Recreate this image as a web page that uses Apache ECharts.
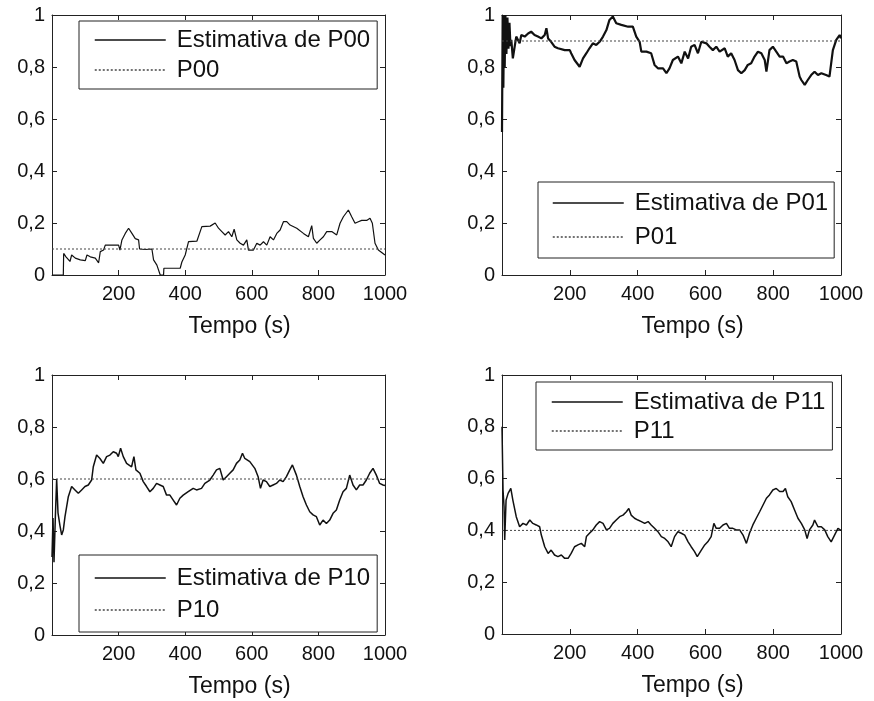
<!DOCTYPE html>
<html>
<head>
<meta charset="utf-8">
<script src="https://cdn.jsdelivr.net/npm/echarts@6/dist/echarts.min.js"></script>
<style>
html, body { margin: 0; padding: 0; background: #fff; }
#chart { width: 874px; height: 701px; }
</style>
</head>
<body>
<div id="chart"></div>
<script>
// tempo (s) e estimativas
const t00 = [0, 34, 35, 42, 54, 59, 70, 85, 100, 105, 115, 130, 140, 145, 155, 160, 200, 204, 210, 220, 230, 240, 250, 260, 263, 280, 300, 305, 315, 325, 335, 336, 385, 390, 400, 410, 435, 450, 475, 490, 500, 510, 520, 530, 540, 547, 555, 565, 575, 585, 590, 605, 615, 625, 635, 645, 655, 665, 675, 685, 695, 705, 715, 735, 755, 770, 780, 785, 795, 805, 815, 825, 840, 855, 865, 875, 890, 900, 910, 920, 930, 945, 955, 962, 970, 980, 1000];
const v00 = [0, 0, 0.083, 0.07, 0.052, 0.077, 0.065, 0.058, 0.055, 0.077, 0.07, 0.065, 0.047, 0.09, 0.096, 0.115, 0.115, 0.096, 0.135, 0.16, 0.18, 0.16, 0.14, 0.135, 0.1, 0.098, 0.1, 0.058, 0.038, 0, 0, 0.026, 0.026, 0.05, 0.077, 0.128, 0.13, 0.186, 0.188, 0.2, 0.18, 0.167, 0.154, 0.167, 0.147, 0.176, 0.135, 0.122, 0.115, 0.135, 0.096, 0.096, 0.122, 0.115, 0.128, 0.115, 0.147, 0.135, 0.16, 0.173, 0.205, 0.205, 0.192, 0.18, 0.16, 0.147, 0.19, 0.141, 0.122, 0.135, 0.147, 0.167, 0.167, 0.154, 0.199, 0.224, 0.25, 0.224, 0.199, 0.205, 0.21, 0.21, 0.218, 0.199, 0.122, 0.096, 0.077];

const t01 = [0, 2, 4, 6, 8, 10, 13, 16, 19, 22, 25, 27.5, 32, 42, 52, 57, 67, 77, 86, 96, 106, 116, 126, 131, 136, 145, 155, 165, 185, 200, 204, 214, 229, 239, 249, 258, 268, 278, 288, 298, 308, 317, 327, 337, 352, 372, 386, 396, 406, 411, 426, 440, 450, 460, 475, 485, 494, 504, 519, 529, 539, 549, 558, 568, 578, 588, 603, 612, 622, 632, 642, 657, 666, 676, 686, 696, 706, 716, 725, 735, 745, 755, 765, 775, 780, 789, 799, 809, 819, 829, 839, 848, 858, 868, 878, 883, 893, 902, 912, 922, 932, 942, 956, 966, 971, 976, 986, 996, 1000];
const v01 = [0.55, 1.0, 0.72, 1.0, 0.8, 1.0, 0.85, 0.99, 0.87, 0.97, 0.88, 0.904, 0.833, 0.917, 0.891, 0.923, 0.917, 0.929, 0.936, 0.923, 0.917, 0.91, 0.923, 0.949, 0.91, 0.897, 0.878, 0.872, 0.865, 0.865, 0.853, 0.827, 0.801, 0.833, 0.853, 0.872, 0.891, 0.885, 0.897, 0.917, 0.942, 0.981, 0.994, 0.968, 0.962, 0.955, 0.955, 0.917, 0.897, 0.859, 0.859, 0.853, 0.808, 0.795, 0.795, 0.776, 0.795, 0.827, 0.84, 0.814, 0.859, 0.833, 0.878, 0.885, 0.853, 0.897, 0.891, 0.878, 0.865, 0.878, 0.859, 0.872, 0.84, 0.853, 0.827, 0.788, 0.776, 0.788, 0.808, 0.814, 0.84, 0.859, 0.853, 0.827, 0.782, 0.865, 0.878, 0.859, 0.84, 0.84, 0.814, 0.821, 0.827, 0.821, 0.763, 0.75, 0.731, 0.75, 0.769, 0.782, 0.769, 0.776, 0.769, 0.763, 0.814, 0.865, 0.904, 0.923, 0.91];

const t10 = [0, 3, 6, 10, 14, 18, 24, 29, 34, 39, 49, 59, 69, 79, 89, 99, 109, 119, 124, 134, 144, 154, 164, 174, 184, 194, 199, 206, 214, 224, 239, 246, 252, 264, 274, 284, 294, 304, 314, 324, 334, 344, 354, 364, 374, 384, 394, 409, 424, 434, 449, 459, 474, 484, 494, 504, 514, 524, 534, 544, 554, 564, 572, 579, 594, 609, 619, 626, 634, 644, 654, 664, 674, 684, 694, 704, 714, 722, 734, 744, 754, 764, 774, 784, 794, 804, 814, 824, 834, 844, 854, 864, 874, 884, 894, 904, 914, 924, 934, 944, 954, 964, 974, 984, 994, 1000];
const v10 = [0.3, 0.45, 0.28, 0.45, 0.6, 0.47, 0.42, 0.385, 0.404, 0.455, 0.532, 0.571, 0.558, 0.545, 0.558, 0.571, 0.577, 0.596, 0.647, 0.692, 0.679, 0.66, 0.686, 0.692, 0.705, 0.699, 0.686, 0.718, 0.686, 0.66, 0.647, 0.686, 0.635, 0.622, 0.59, 0.571, 0.551, 0.564, 0.583, 0.577, 0.571, 0.538, 0.538, 0.519, 0.5, 0.526, 0.538, 0.551, 0.564, 0.558, 0.564, 0.583, 0.596, 0.615, 0.635, 0.641, 0.596, 0.609, 0.622, 0.635, 0.66, 0.673, 0.699, 0.679, 0.667, 0.641, 0.609, 0.564, 0.596, 0.59, 0.571, 0.577, 0.583, 0.596, 0.59, 0.609, 0.635, 0.654, 0.615, 0.571, 0.532, 0.5, 0.474, 0.462, 0.455, 0.423, 0.442, 0.429, 0.442, 0.468, 0.481, 0.519, 0.551, 0.564, 0.615, 0.577, 0.558, 0.577, 0.577, 0.596, 0.622, 0.641, 0.615, 0.583, 0.577, 0.575];

const t11 = [0, 3, 6, 8, 12, 18, 26, 32, 42, 52, 62, 72, 82, 91, 101, 111, 116, 126, 136, 145, 155, 165, 175, 185, 195, 204, 214, 224, 234, 244, 249, 258, 268, 278, 288, 298, 308, 317, 327, 337, 347, 357, 367, 374, 381, 391, 401, 411, 421, 431, 440, 450, 460, 470, 480, 490, 499, 509, 519, 529, 539, 549, 558, 568, 576, 588, 598, 607, 617, 625, 632, 642, 652, 662, 671, 681, 691, 701, 711, 721, 730, 740, 750, 760, 770, 780, 789, 799, 809, 819, 829, 836, 843, 853, 863, 873, 883, 893, 900, 907, 917, 922, 932, 942, 952, 961, 971, 981, 991, 1000];
const v11 = [0.8, 0.556, 0.492, 0.363, 0.517, 0.543, 0.562, 0.517, 0.453, 0.414, 0.427, 0.421, 0.44, 0.427, 0.421, 0.414, 0.382, 0.337, 0.311, 0.324, 0.305, 0.299, 0.305, 0.292, 0.292, 0.311, 0.337, 0.344, 0.35, 0.337, 0.376, 0.389, 0.402, 0.421, 0.434, 0.427, 0.402, 0.408, 0.427, 0.44, 0.453, 0.459, 0.472, 0.485, 0.459, 0.447, 0.44, 0.434, 0.427, 0.434, 0.421, 0.408, 0.395, 0.376, 0.369, 0.356, 0.337, 0.376, 0.395, 0.389, 0.382, 0.356, 0.337, 0.318, 0.299, 0.324, 0.344, 0.356, 0.376, 0.427, 0.408, 0.408, 0.421, 0.427, 0.408, 0.408, 0.402, 0.402, 0.382, 0.35, 0.389, 0.421, 0.447, 0.472, 0.498, 0.524, 0.537, 0.556, 0.562, 0.55, 0.55, 0.562, 0.53, 0.511, 0.479, 0.447, 0.427, 0.402, 0.369, 0.402, 0.421, 0.44, 0.414, 0.414, 0.402, 0.376, 0.356, 0.382, 0.408, 0.4];

// valores verdadeiros
const names = ['P00', 'P01', 'P10', 'P11'];
const trueValues = [0.1, 0.9, 0.6, 0.4];
const times = [t00, t01, t10, t11];
const estimates = [v00, v01, v10, v11];

const xTicks = { min: 0, max: 1000, interval: 200 };
const yTicks = { min: 0, max: 1, interval: 0.2 };

const grids = [
    { left: 52, top: 15, width: 333, height: 260 },
    { left: 502, top: 15, width: 339, height: 260 },
    { left: 52, top: 375, width: 333, height: 260 },
    { left: 502, top: 375, width: 339, height: 259 }
];
const legendBoxes = [
    { left: 79, top: 21, padding: [7, 7, 7, 15], itemGap: 6 },
    { left: 538, top: 182, padding: [9, 6, 9, 14], itemGap: 10 },
    { left: 79, top: 555, padding: [11, 7, 10, 15], itemGap: 8 },
    { left: 536, top: 382, padding: [8, 7, 7, 15], itemGap: 5 }
];
const lineWidths = [1.2, 2.2, 1.5, 1.5];

const FONT = 'Liberation Sans, Arial, sans-serif';
const INK = '#111';

const yFmt = (v) => (v === 0 ? '0' : v === 1 ? '1' : v.toFixed(1).replace('.', ','));
const xFmt = (v) => (v === 0 ? '' : String(v));

const axisLine = { show: true, onZero: false, lineStyle: { color: '#222', width: 1 } };
const axisTick = { show: true, inside: true, length: 5, lineStyle: { color: '#222' } };

const xAxis = [];
const yAxis = [];
const series = [];
const legend = [];

names.forEach((name, i) => {
    xAxis.push({
        type: 'value', gridIndex: i, position: 'bottom', ...xTicks,
        axisLine, axisTick, splitLine: { show: false },
        axisLabel: { formatter: xFmt, fontSize: 20, color: INK, fontFamily: FONT, margin: 9 },
        name: 'Tempo (s)', nameLocation: 'middle', nameGap: 40,
        nameTextStyle: { fontSize: 23, color: INK, fontFamily: FONT, padding: [0, 0, 0, 42] }
    });
    yAxis.push({
        type: 'value', gridIndex: i, position: 'left', ...yTicks,
        axisLine, axisTick, splitLine: { show: false },
        axisLabel: { formatter: yFmt, fontSize: 20, color: INK, fontFamily: FONT, margin: 7 }
    });
});
names.forEach((name, i) => {
    xAxis.push({
        type: 'value', gridIndex: i, position: 'top', ...xTicks,
        axisLine, axisTick, splitLine: { show: false }, axisLabel: { show: false }
    });
    yAxis.push({
        type: 'value', gridIndex: i, position: 'right', ...yTicks,
        axisLine, axisTick, splitLine: { show: false }, axisLabel: { show: false }
    });
});

names.forEach((name, i) => {
    const est = 'Estimativa de ' + name;
    series.push({
        name: est, type: 'line', xAxisIndex: i, yAxisIndex: i,
        data: times[i].map((t, k) => [t, estimates[i][k]]),
        symbol: 'none', lineStyle: { color: INK, width: lineWidths[i] },
        itemStyle: { color: INK }
    });
    series.push({
        name: name, type: 'line', xAxisIndex: i, yAxisIndex: i,
        data: [[0, trueValues[i]], [1000, trueValues[i]]],
        symbol: 'none', lineStyle: { color: '#444', width: 1, type: [2, 2] },
        itemStyle: { color: '#444' }
    });
    const box = legendBoxes[i];
    legend.push({
        data: [est, name], orient: 'vertical',
        left: box.left, top: box.top,
        backgroundColor: '#fff', borderColor: '#222', borderWidth: 1,
        padding: box.padding, itemGap: box.itemGap,
        itemWidth: 71, itemHeight: 22,
        itemStyle: { opacity: 0, borderWidth: 0 },
        lineStyle: { width: 1.5 },
        textStyle: { fontSize: 24, color: INK, fontFamily: FONT, padding: [0, 0, 0, 6] }
    });
});

const chart = echarts.init(document.getElementById('chart'));
chart.setOption({
    animation: false,
    backgroundColor: '#fff',
    grid: grids,
    xAxis,
    yAxis,
    legend,
    series
});
</script>
</body>
</html>
